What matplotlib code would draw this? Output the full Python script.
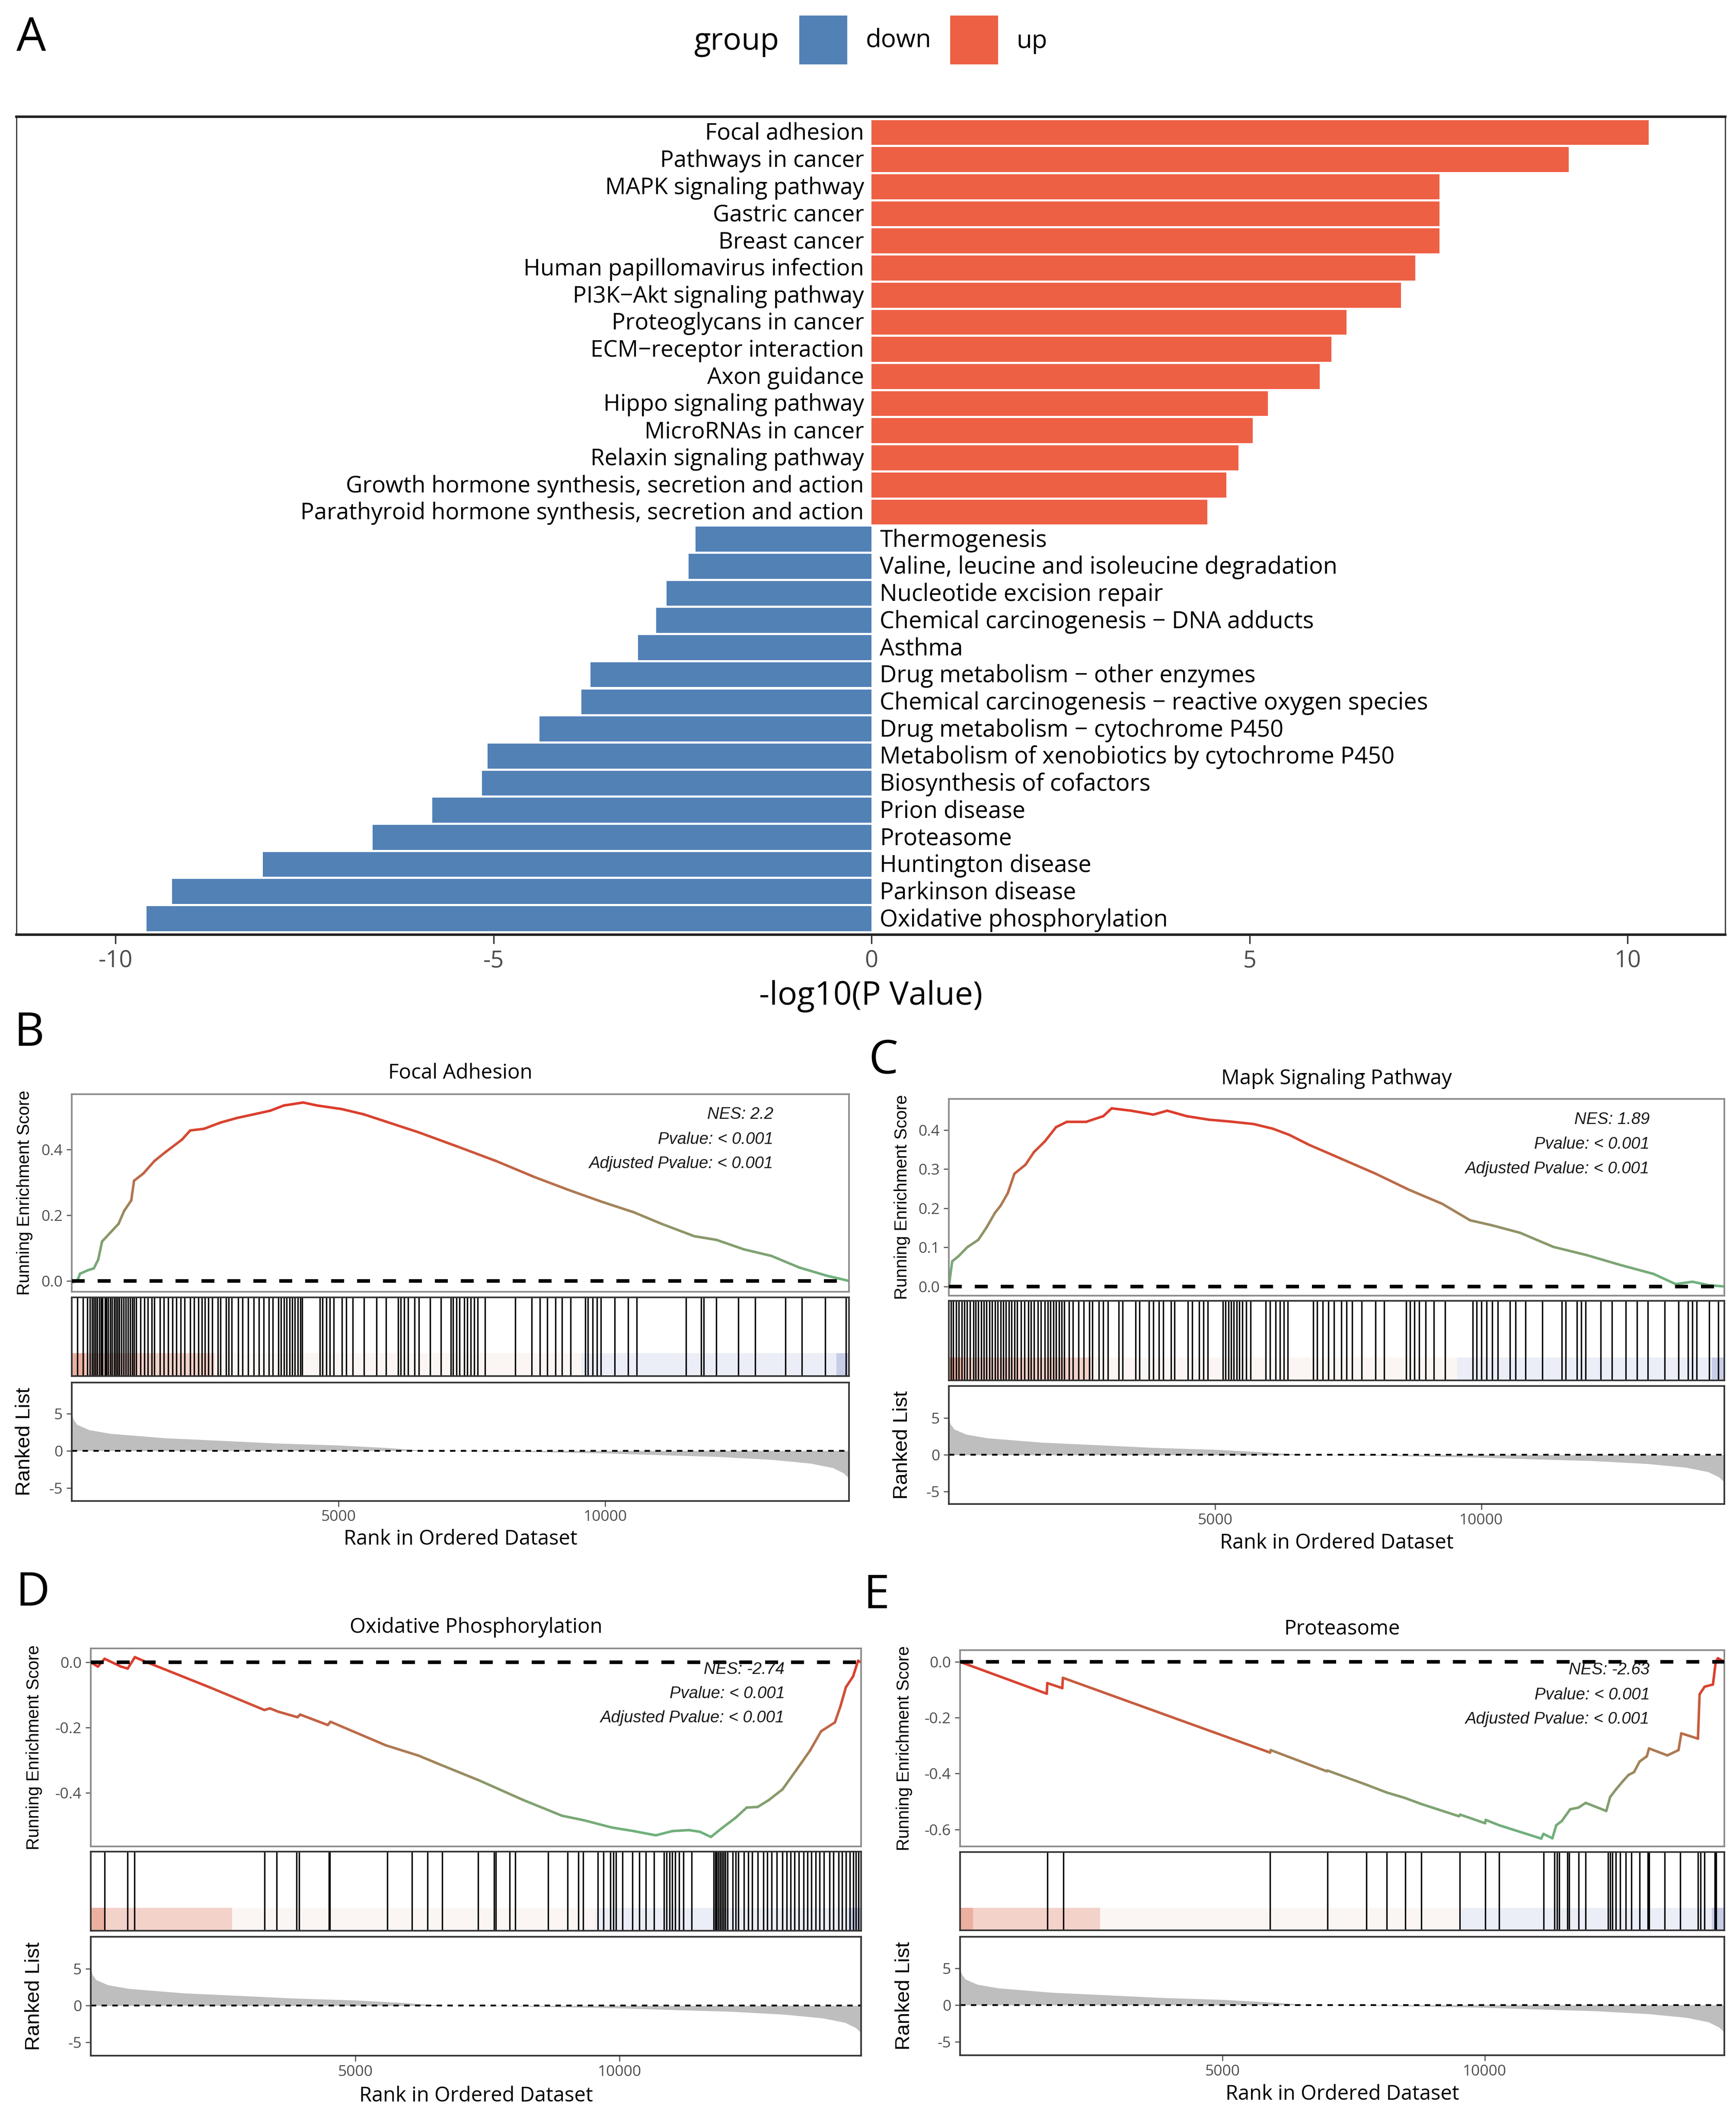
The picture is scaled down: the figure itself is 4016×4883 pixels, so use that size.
import matplotlib
matplotlib.use("Agg")
import matplotlib.pyplot as plt
import numpy as np
from matplotlib.collections import LineCollection
from matplotlib.colors import LinearSegmentedColormap, Normalize
from matplotlib.patches import Rectangle

# ---------------- data ----------------
UP_TERMS = ["Focal adhesion", "Pathways in cancer", "MAPK signaling pathway", "Gastric cancer",
            "Breast cancer", "Human papillomavirus infection", "PI3K\u2212Akt signaling pathway",
            "Proteoglycans in cancer", "ECM\u2212receptor interaction", "Axon guidance",
            "Hippo signaling pathway", "MicroRNAs in cancer", "Relaxin signaling pathway",
            "Growth hormone synthesis, secretion and action",
            "Parathyroid hormone synthesis, secretion and action"]
UP_VALUES = [10.28, 9.22, 7.51, 7.51, 7.51, 7.19, 7.00, 6.28, 6.08, 5.93, 5.24, 5.04, 4.85, 4.69, 4.44]

DOWN_TERMS = ["Thermogenesis", "Valine, leucine and isoleucine degradation", "Nucleotide excision repair",
              "Chemical carcinogenesis \u2212 DNA adducts", "Asthma", "Drug metabolism \u2212 other enzymes",
              "Chemical carcinogenesis \u2212 reactive oxygen species", "Drug metabolism \u2212 cytochrome P450",
              "Metabolism of xenobiotics by cytochrome P450", "Biosynthesis of cofactors", "Prion disease",
              "Proteasome", "Huntington disease", "Parkinson disease", "Oxidative phosphorylation"]
DOWN_VALUES = [-2.33, -2.42, -2.71, -2.85, -3.09, -3.72, -3.84, -4.39, -5.08, -5.15, -5.81, -6.60,
               -8.05, -9.25, -9.59]

# ranked list metric (shared by all GSEA plots)
RANK_X = [0, 30, 100, 324, 720, 1750, 2780, 3815, 5000, 5877, 6700, 7940, 8970, 10000, 11050,
          12090, 13120, 13840, 14260, 14460, 14565]
RANK_Y = [5.0, 4.2, 3.5, 2.8, 2.3, 1.7, 1.36, 1.0, 0.73, 0.4, 0.0, -0.08, -0.2, -0.34, -0.58,
          -0.8, -1.2, -1.7, -2.3, -3.0, -3.7]
N_GENES = 14565

BAND_EDGES = [0, 250, 2670, 9550, 14330, 14565]
BAND_COLORS = ["#E69C88", "#F1C7BD", "#FBF4F0", "#E7EAF6", "#BAC1E0"]

# B: Focal Adhesion
FA_X = [0, 103, 155, 310, 413, 496, 568, 723, 878, 981, 1115, 1167, 1342, 1549, 1755, 2065, 2220,
        2478, 2788, 3098, 3408, 3717, 3976, 4337, 4595, 5060, 5473, 5886, 6505, 7228, 7951, 8674,
        9293, 9913, 10532, 11049, 11668, 12081, 12597, 13114, 13630, 14146, 14565]
FA_ES = [-0.005, 0.0, 0.022, 0.033, 0.038, 0.065, 0.12, 0.147, 0.174, 0.213, 0.245, 0.305, 0.327,
         0.365, 0.392, 0.43, 0.458, 0.463, 0.482, 0.496, 0.507, 0.518, 0.534, 0.543, 0.534, 0.523,
         0.507, 0.485, 0.452, 0.409, 0.365, 0.316, 0.278, 0.242, 0.209, 0.174, 0.136, 0.125, 0.096,
         0.076, 0.041, 0.016, 0.0]
FA_HITS = [103, 207, 289, 341, 382, 413, 444, 475, 516, 547, 578, 620, 651, 682, 723, 754, 795, 826,
           857, 888, 929, 971, 1012, 1053, 1095, 1136, 1167, 1208, 1291, 1363, 1425, 1497, 1549, 1652,
           1724, 1807, 1890, 1962, 2045, 2117, 2220, 2292, 2375, 2437, 2499, 2561, 2633, 2736, 2788,
           2891, 2943, 2995, 3119, 3201, 3304, 3408, 3511, 3593, 3697, 3769, 3872, 3924, 3976, 4027,
           4079, 4131, 4182, 4234, 4285, 4316, 4647, 4699, 4771, 4833, 4905, 5060, 5142, 5266, 5473,
           5710, 5886, 6113, 6164, 6226, 6299, 6423, 6505, 6712, 6918, 7104, 7145, 7207, 7269, 7352,
           7414, 7476, 7538, 7610, 7745, 8312, 8622, 8777, 8911, 9066, 9190, 9345, 9624, 9676, 9758,
           9841, 9913, 10171, 10429, 10584, 11513, 11792, 11843, 12081, 12494, 12804, 13372, 13682,
           14116, 14508]

# C: Mapk Signaling Pathway
MAPK_X = [0, 63, 188, 344, 553, 710, 866, 971, 1106, 1232, 1440, 1597, 1806, 2014, 2223, 2588, 2901,
          3058, 3423, 3841, 4102, 4467, 4885, 5302, 5720, 6085, 6398, 6763, 7390, 8016, 8642, 9268,
          9790, 10207, 10729, 11355, 11981, 12608, 13234, 13651, 13965, 14278, 14565]
MAPK_ES = [0.0, 0.064, 0.078, 0.10, 0.119, 0.151, 0.188, 0.206, 0.238, 0.288, 0.311, 0.343, 0.371,
           0.407, 0.421, 0.421, 0.435, 0.455, 0.449, 0.439, 0.449, 0.435, 0.426, 0.421, 0.415, 0.403,
           0.387, 0.362, 0.325, 0.288, 0.247, 0.211, 0.169, 0.156, 0.137, 0.101, 0.08, 0.055, 0.032,
           0.006, 0.012, 0.003, 0.0]
MAPK_HITS = [42, 83, 136, 188, 240, 292, 344, 397, 459, 501, 553, 605, 658, 710, 762, 814, 866, 918,
             971, 1023, 1075, 1127, 1179, 1232, 1284, 1357, 1419, 1492, 1545, 1597, 1670, 1733, 1806,
             1858, 1910, 1962, 2014, 2067, 2119, 2171, 2254, 2327, 2432, 2536, 2641, 2693, 2818, 2901,
             2985, 3194, 3267, 3507, 3580, 3757, 3841, 3945, 4029, 4175, 4237, 4488, 4571, 4697, 4780,
             4864, 5145, 5198, 5250, 5302, 5354, 5406, 5459, 5511, 5584, 5667, 5949, 6033, 6137, 6220,
             6294, 6367, 6847, 6920, 7024, 7129, 7233, 7369, 7473, 7577, 7755, 8016, 8172, 8590, 8663,
             8746, 8830, 8955, 9112, 9320, 9842, 9915, 9999, 10103, 10207, 10312, 10541, 10646, 10833,
             11146, 11512, 11585, 11794, 11877, 11961, 12243, 12451, 12712, 12921, 13130, 13443,
             13704, 13881, 13965, 14048, 14278, 14455]

# D: Oxidative Phosphorylation
OX_X = [0, 135, 261, 573, 698, 834, 990, 1407, 2241, 3283, 3387, 3543, 3908, 3960, 4481, 4533, 5576,
        6201, 6618, 7348, 8181, 8911, 9328, 9849, 10266, 10683, 10995, 11308, 11516, 11725, 11933,
        12194, 12402, 12611, 12819, 13080, 13340, 13601, 13809, 14070, 14174, 14278, 14414, 14508,
        14565]
OX_ES = [0.0, -0.013, 0.011, -0.013, -0.019, 0.016, 0.005, -0.022, -0.076, -0.146, -0.141, -0.151,
         -0.168, -0.16, -0.192, -0.182, -0.254, -0.286, -0.314, -0.362, -0.422, -0.470, -0.484,
         -0.506, -0.517, -0.530, -0.517, -0.514, -0.519, -0.535, -0.508, -0.476, -0.445, -0.443,
         -0.422, -0.389, -0.330, -0.270, -0.211, -0.184, -0.135, -0.076, -0.043, 0.005, 0.0]
OX_HITS = [261, 698, 823, 3283, 3512, 3887, 3940, 4502, 4523, 5607, 6076, 6368, 6649, 7327, 7629,
           7660, 7921, 8025, 8650, 9015, 9223, 9307, 9588, 9692, 9828, 9880, 9932, 10057, 10245, 10370,
           10495, 10651, 10839, 10891, 10943, 10995, 11047, 11120, 11203, 11360, 11777, 11808, 11839,
           11871, 11902, 11933, 11964, 11996, 12037, 12141, 12194, 12246, 12350, 12434, 12506, 12611,
           12715, 12788, 12871, 12975, 13080, 13163, 13236, 13309, 13392, 13476, 13548, 13621, 13705,
           13778, 13861, 13965, 14038, 14142, 14205, 14278, 14351, 14414, 14466, 14518]

# E: Proteasome
PR_X = [0, 1652, 1662, 1948, 1959, 5909, 5920, 6989, 7000, 7730, 8132, 8471, 8789, 9509, 9530, 10006,
        10017, 10271, 11076, 11118, 11288, 11362, 11468, 11627, 11786, 11923, 12315, 12389, 12495,
        12633, 12739, 12844, 12950, 13088, 13130, 13480, 13692, 13745, 14062, 14094, 14189, 14348,
        14401, 14443, 14565]
PR_ES = [0.0, -0.114, -0.076, -0.094, -0.057, -0.325, -0.316, -0.392, -0.389, -0.439, -0.468, -0.487,
         -0.509, -0.553, -0.547, -0.578, -0.566, -0.585, -0.633, -0.616, -0.632, -0.585, -0.570,
         -0.528, -0.522, -0.505, -0.534, -0.484, -0.458, -0.427, -0.405, -0.395, -0.357, -0.338,
         -0.310, -0.335, -0.316, -0.256, -0.275, -0.116, -0.089, -0.081, 0.0, 0.013, 0.0]
PR_HITS = [1662, 1970, 5909, 7000, 7741, 8132, 8482, 8789, 9520, 10006, 10271, 11118, 11330, 11373,
           11415, 11574, 11606, 11786, 11923, 12347, 12389, 12431, 12495, 12580, 12686, 12792, 12950,
           13109, 13130, 13427, 13723, 14062, 14115, 14189, 14380, 14411]

# ---------------- style ----------------
W, H, DPI = 4016, 4883, 300
FONT = ["Open Sans", "DejaVu Sans"]
ARIAL = ["Liberation Sans", "DejaVu Sans"]
plt.rcParams.update({
    "font.family": FONT,
    "axes.linewidth": 0.8,
    "xtick.major.width": 0.6,
    "ytick.major.width": 0.6,
})
UP_COLOR = "#EE6044"
DOWN_COLOR = "#5281B6"
TICK_GREY = "#4D4D4D"
es_cmap = LinearSegmentedColormap.from_list(
    "es", [(0.0, "#6DB37F"), (0.3, "#8E9467"), (0.55, "#B8704C"), (0.8, "#D44A33"), (1.0, "#DE3A2C")])


def fx(px):
    return px / W


def fy(py):
    return 1 - py / H


def add_ax(l, r, t, b):
    return fig.add_axes([fx(l), fy(b), (r - l) / W, (b - t) / H])


fig = plt.figure(figsize=(W / DPI, H / DPI), dpi=DPI)
fig.patch.set_facecolor("white")

# ---------------- panel A ----------------
ax = add_ax(38, 3991, 269.5, 2162)
n = len(UP_TERMS) + len(DOWN_TERMS)
ypos = np.arange(n)[::-1]
ax.barh(ypos[:len(UP_TERMS)], UP_VALUES, height=0.92, color=UP_COLOR, lw=0)
ax.barh(ypos[len(UP_TERMS):], DOWN_VALUES, height=0.92, color=DOWN_COLOR, lw=0)
for y, t in zip(ypos[:len(UP_TERMS)], UP_TERMS):
    ax.text(-0.1, y - 0.05, t, ha="right", va="center", fontsize=12.7, color="black")
for y, t in zip(ypos[len(UP_TERMS):], DOWN_TERMS):
    ax.text(0.11, y - 0.05, t, ha="left", va="center", fontsize=13, color="black")
ax.set_xlim(-11.31, 11.29)
ax.set_ylim(-0.59, n - 1 + 0.59)
ax.set_yticks([])
ax.set_xticks([-10, -5, 0, 5, 10])
ax.set_xticklabels(["-10", "-5", "0", "5", "10"])
ax.tick_params(axis="x", labelsize=13, colors=TICK_GREY, length=5, width=0.8, pad=3)
ax.tick_params(axis="x", color="#333333")
for s in ["top", "bottom"]:
    ax.spines[s].set_linewidth(1.4)
    ax.spines[s].set_color("#222222")
for s in ["left", "right"]:
    ax.spines[s].set_linewidth(0.6)
    ax.spines[s].set_color("#222222")
ax.set_xlabel("-log10(P Value)", fontsize=18, labelpad=4)

# legend
fig.text(fx(1606), fy(96), "group", fontsize=17, ha="left", va="center")
fig.add_artist(Rectangle((fx(1849), fy(149)), 111 / W, 113 / H, transform=fig.transFigure,
                         color=DOWN_COLOR, lw=0))
fig.add_artist(Rectangle((fx(2198), fy(149)), 111 / W, 113 / H, transform=fig.transFigure,
                         color=UP_COLOR, lw=0))
fig.text(fx(2003), fy(94), "down", fontsize=14, ha="left", va="center")
fig.text(fx(2351), fy(96), "up", fontsize=14, ha="left", va="center")
fig.text(fx(38), fy(89), "A", fontsize=26, ha="left", va="center")


# ---------------- GSEA panels ----------------
def gsea(x0, x1, t_es, b_es, t_hit, b_hit, t_rk, b_rk, es_x, es_y, hits, es_lim, es_ticks,
         rk_lim, title, title_y, stats, stats_x, stats_y, letter, letter_xy, ylab_x, xlab_y):
    ax1 = add_ax(x0, x1, t_es, b_es)
    pts = np.column_stack([es_x, es_y]).reshape(-1, 1, 2)
    segs = np.concatenate([pts[:-1], pts[1:]], axis=1)
    mids = (np.array(es_y[:-1]) + np.array(es_y[1:])) / 2
    lc = LineCollection(segs, cmap=es_cmap, norm=Normalize(min(es_y), max(es_y)), lw=1.4,
                        capstyle="round", joinstyle="round")
    lc.set_array(mids)
    ax1.add_collection(lc)
    ax1.axhline(0, color="black", lw=2, linestyle=(0, (3.6, 3.6)), zorder=3)
    ax1.set_xlim(0, N_GENES)
    ax1.set_ylim(*es_lim)
    ax1.set_xticks([])
    ax1.set_yticks(es_ticks)
    ax1.set_yticklabels([f"{v:.1f}" for v in es_ticks])
    ax1.tick_params(axis="y", labelsize=8.5, colors=TICK_GREY, length=3, pad=2)
    for s in ax1.spines.values():
        s.set_color("#8A8A8A")
        s.set_linewidth(0.9)
    for txt, yv in zip(stats, stats_y):
        ax1.text(stats_x, yv, txt, ha="right", va="center", fontsize=9.2, style="italic",
                 color="#1A1A1A", zorder=4, family=ARIAL)

    ax2 = add_ax(x0, x1, t_hit, b_hit)
    ax2.vlines(hits, 0, 1, color="black", lw=0.8)
    for e0, e1, c in zip(BAND_EDGES[:-1], BAND_EDGES[1:], BAND_COLORS):
        ax2.axvspan(e0, e1, ymin=0, ymax=0.29, color=c, alpha=0.8, lw=0)
    ax2.set_xlim(0, N_GENES)
    ax2.set_ylim(0, 1)
    ax2.set_xticks([])
    ax2.set_yticks([])
    for s in ax2.spines.values():
        s.set_color("#333333")
        s.set_linewidth(0.9)

    ax3 = add_ax(x0, x1, t_rk, b_rk)
    ax3.fill_between(RANK_X, RANK_Y, 0, color="#BEBEBE", lw=0)
    ax3.axhline(0, color="black", lw=1.0, linestyle=(0, (3, 3)))
    ax3.set_xlim(0, N_GENES)
    ax3.set_ylim(*rk_lim)
    ax3.set_xticks([5000, 10000])
    ax3.set_yticks([-5, 0, 5])
    ax3.set_yticklabels(["-5", "0", "5"])
    ax3.tick_params(labelsize=8.5, colors=TICK_GREY, length=3, pad=2)
    for s in ax3.spines.values():
        s.set_color("#333333")
        s.set_linewidth(0.9)

    cx = (x0 + x1) / 2
    fig.text(fx(cx), fy(title_y), title, fontsize=11.4, ha="center", va="center")
    fig.text(fx(cx), fy(xlab_y), "Rank in Ordered Dataset", fontsize=11.3, ha="center", va="center")
    fig.text(fx(ylab_x), fy((t_es + b_es) / 2), "Running Enrichment Score", fontsize=9.5,
             rotation=90, ha="center", va="center", family=ARIAL)
    fig.text(fx(ylab_x), fy((t_rk + b_rk) / 2), "Ranked List", fontsize=11.4,
             rotation=90, ha="center", va="center", family=ARIAL)
    fig.text(fx(letter_xy[0]), fy(letter_xy[1]), letter, fontsize=26, ha="center", va="center")


gsea(166, 1964, 2530.5, 2988, 3000.6, 3183, 3198, 3471.6, FA_X, FA_ES, FA_HITS,
     (-0.033, 0.569), [0.0, 0.2, 0.4], (-6.74, 9.16), "Focal Adhesion", 2482,
     ["NES: 2.2", "Pvalue: < 0.001", "Adjusted Pvalue: < 0.001"], 13149, [0.507, 0.430, 0.357],
     "B", (67, 2391), 57, 3560)
gsea(2195, 3989, 2542, 2996.5, 3009, 3193, 3205.5, 3479, MAPK_X, MAPK_ES, MAPK_HITS,
     (-0.023, 0.479), [0.0, 0.1, 0.2, 0.3, 0.4], (-6.68, 9.41), "Mapk Signaling Pathway", 2495,
     ["NES: 1.89", "Pvalue: < 0.001", "Adjusted Pvalue: < 0.001"], 13162, [0.426, 0.363, 0.300],
     "C", (2044, 2455), 2087, 3569)
gsea(210, 1992, 3812.8, 4271, 4283, 4466, 4480, 4755, OX_X, OX_ES, OX_HITS,
     (-0.564, 0.043), [-0.4, -0.2, 0.0], (-6.8, 9.35), "Oxidative Phosphorylation", 3764,
     ["NES: -2.74", "Pvalue: < 0.001", "Adjusted Pvalue: < 0.001"], 13121, [-0.022, -0.097, -0.171],
     "D", (76, 3686), 79, 4848)
gsea(2221, 3989, 3817, 4271, 4284, 4465, 4480, 4754, PR_X, PR_ES, PR_HITS,
     (-0.661, 0.042), [-0.6, -0.4, -0.2, 0.0], (-6.81, 9.26), "Proteasome", 3768,
     ["NES: -2.63", "Pvalue: < 0.001", "Adjusted Pvalue: < 0.001"], 13143, [-0.030, -0.119, -0.205],
     "E", (2028, 3692), 2092, 4844)

fig.savefig("out.png", dpi=DPI, facecolor="white")
